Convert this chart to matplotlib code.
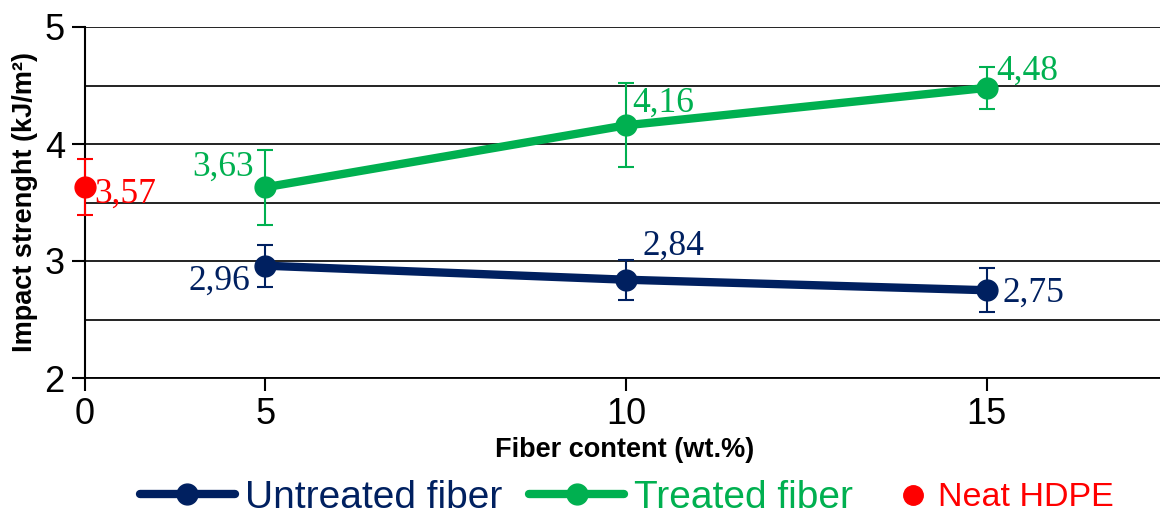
import numpy as np
import matplotlib
matplotlib.use("Agg")
import matplotlib.pyplot as plt
from matplotlib.lines import Line2D

# data
fiber = [5, 10, 15]
untreated = [2.96, 2.84, 2.75]
untreated_err = [0.18, 0.17, 0.19]
treated = [3.63, 4.16, 4.48]
treated_err = [0.32, 0.36, 0.18]
neat_x = [0]
neat_y = [3.63]
neat_err = [0.24]
neat_printed = [3.57]

navy = "#002060"
green = "#00B050"
red = "#FF0000"

plt.rcParams['font.family'] = ['Liberation Sans', 'DejaVu Sans']


# the 0-5 stretch of the axis is drawn at half scale in the original
def fwd(x):
    x = np.asarray(x, dtype=float)
    return np.where(x < 5, x / 2, x - 2.5)


def inv(y):
    y = np.asarray(y, dtype=float)
    return np.where(y < 2.5, y * 2, y + 2.5)


fig = plt.figure(figsize=(11.6, 5.15), dpi=100)
ax = fig.add_axes([85 / 1160, 1 - 378 / 515, 1 - 85 / 1160, (378 - 27) / 515])
ax.set_xscale('function', functions=(fwd, inv))

ax.errorbar(fiber, untreated, yerr=untreated_err, color=navy, lw=6, marker='o', ms=15,
            ecolor=navy, elinewidth=1.5, capsize=5.5, capthick=1.5, clip_on=False, zorder=3)
ax.errorbar(fiber, treated, yerr=treated_err, color=green, lw=6, marker='o', ms=15,
            ecolor=green, elinewidth=1.5, capsize=5.5, capthick=1.5, clip_on=False, zorder=3)
ax.errorbar(neat_x, neat_y, yerr=neat_err, color=red, ls='none', marker='o', ms=15,
            ecolor=red, elinewidth=1.5, capsize=5.5, capthick=1.5, clip_on=False, zorder=4)

serif = ['Liberation Serif', 'DejaVu Serif']


def label(x, y, val, color, dx, dy, ha):
    ax.annotate(f"{val:.2f}".replace('.', ','), (x, y), xytext=(dx, dy), textcoords='offset points',
                ha=ha, va='baseline', color=color, fontsize=25.5, family=serif, zorder=5)


un_off = [(-11, -17, 'right'), (12, 18, 'left'), (11, -8.6, 'left')]
tr_off = [(-8, 8, 'right'), (4.3, 10, 'left'), (7, 5.8, 'left')]
for x, y, o in zip(fiber, untreated, un_off):
    label(x, y, y, navy, *o)
for x, y, o in zip(fiber, treated, tr_off):
    label(x, y, y, green, *o)
label(neat_x[0], neat_y[0], neat_printed[0], red, 7, -11, 'left')

ax.set_xlim(0, 17.4)
ax.set_ylim(2, 5)
ax.set_xticks([0, 5, 10, 15])
ax.set_xticklabels(['0', '5', '10', '15'])
ax.set_yticks([2, 3, 4, 5])
ax.set_yticks([2.5, 3.5, 4.5], minor=True)
ax.tick_params(axis='both', labelsize=26, width=1.5, color='black')
ax.tick_params(axis='x', length=9, pad=5)
ax.tick_params(axis='y', length=9.5, pad=5)
ax.tick_params(axis='y', which='minor', length=0)
ax.xaxis.set_minor_locator(matplotlib.ticker.NullLocator())
ax.grid(True, axis='y', which='both', color='#111111', lw=1.3)
ax.set_axisbelow(True)
for s in ['top', 'right']:
    ax.spines[s].set_visible(False)
ax.spines['left'].set_linewidth(1.5)
ax.spines['bottom'].set_linewidth(1.3)

ax.set_xlabel("Fiber content (wt.%)", fontsize=19.5, fontweight='bold', va='center')
ax.xaxis.set_label_coords(0.502, -0.205)
ax.set_ylabel("Impact strenght (kJ/m²)", fontsize=19.5, fontweight='bold', va='center')
ax.yaxis.set_label_coords(-0.056, 0.5)

h1 = Line2D([], [], color=navy, lw=6, marker='o', ms=15, solid_capstyle='round')
h2 = Line2D([], [], color=green, lw=6, marker='o', ms=15, solid_capstyle='round')
leg = fig.legend([h1, h2], ["Untreated fiber", "Treated fiber"], loc='center left',
                 bbox_to_anchor=(140 / 1160, 1 - 498 / 515), ncol=2, frameon=False,
                 fontsize=28, handlelength=2.44, handletextpad=0.26, columnspacing=0.69,
                 borderpad=0, borderaxespad=0)
leg.get_texts()[0].set_color(navy)
leg.get_texts()[1].set_color(green)

h3 = Line2D([], [], color=red, ls='none', marker='o', ms=14)
leg2 = fig.legend([h3], ["Neat HDPE"], loc='center left',
                  bbox_to_anchor=(903 / 1160, 1 - 498 / 515), frameon=False,
                  fontsize=24.5, handlelength=0.59, handletextpad=0.44,
                  borderpad=0, borderaxespad=0)
leg2.get_texts()[0].set_color(red)

fig.savefig("out.png", dpi=100)
